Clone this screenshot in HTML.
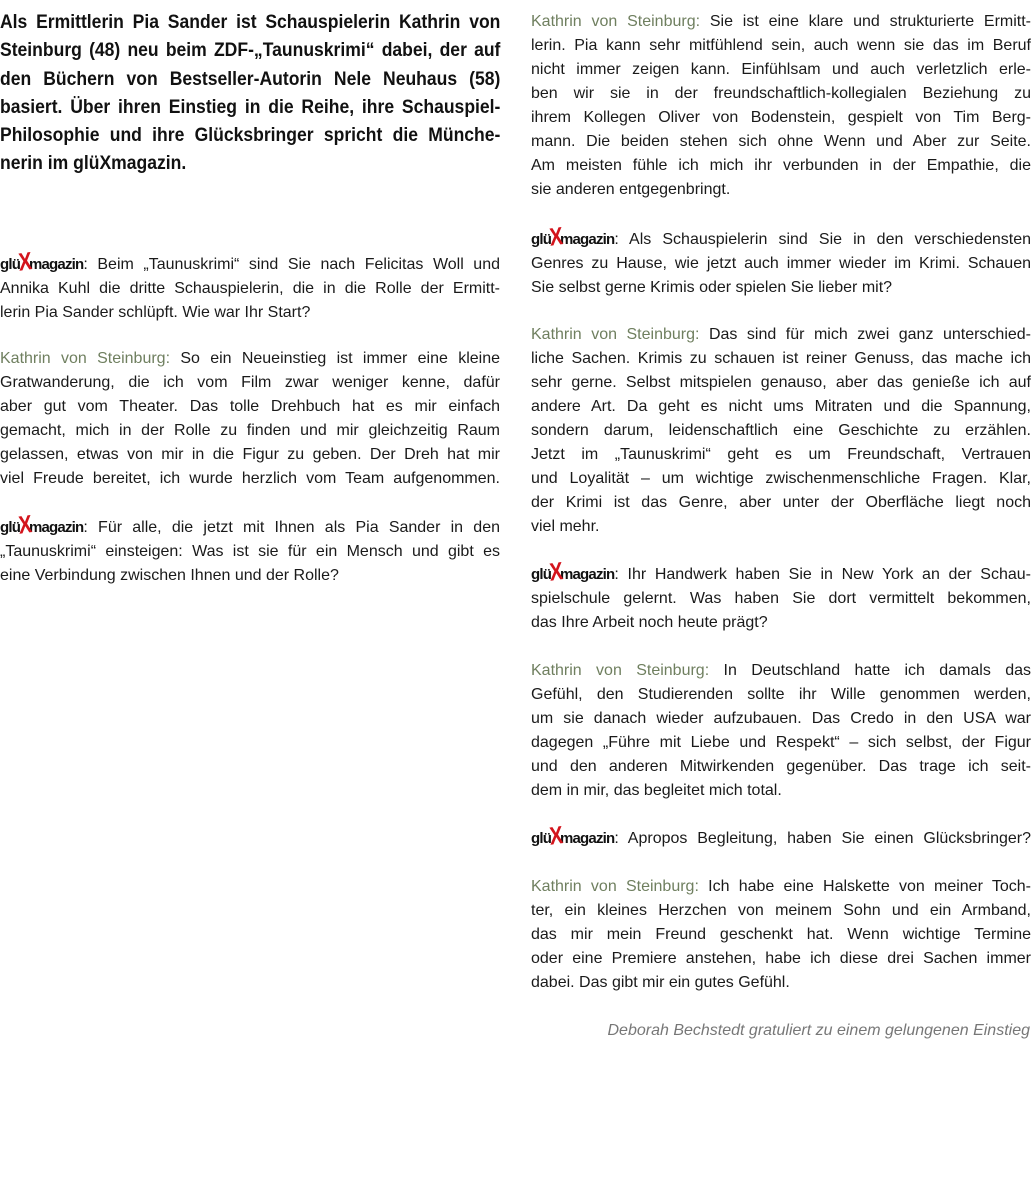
<!DOCTYPE html>
<html><head><meta charset="utf-8"><style>
body{margin:0;width:1032px;height:1200px;background:#fff;position:relative;overflow:hidden;font-family:"Liberation Sans",sans-serif;color:#1a1a1a}
.l{position:absolute;height:24px;line-height:24px;font-size:16px;white-space:nowrap;text-align:justify;text-align-last:justify;width:500px}
.L{left:0}.R{left:531px}
.e{text-align-last:left}
.h{position:absolute;left:0;width:556px;transform:scaleX(0.9);transform-origin:0 0;height:28px;line-height:28px;font-weight:bold;font-size:19.5px;white-space:nowrap;text-align:justify;text-align-last:justify;color:#111}
.k{color:#6f7f5f}
.g{font-weight:bold;font-size:15px;letter-spacing:-0.8px;position:relative;display:inline-block;color:#111}
.g i{font-style:normal;color:#d3141c;font-size:25px;font-weight:bold;display:inline-block;transform:scaleX(0.8) rotate(-6deg);margin:0 -4px 0 -3px;line-height:10px;position:relative;top:1px}
.it{font-style:italic;color:#777;text-align:right;text-align-last:right;width:499px}
</style></head><body>
<div class="h" style="top:8px">Als Ermittlerin Pia Sander ist Schauspielerin Kathrin von</div>
<div class="h" style="top:36px">Steinburg (48) neu beim ZDF-„Taunuskrimi“ dabei, der auf</div>
<div class="h" style="top:65px">den Büchern von Bestseller-Autorin Nele Neuhaus (58)</div>
<div class="h" style="top:93px">basiert. Über ihren Einstieg in die Reihe, ihre Schauspiel-</div>
<div class="h" style="top:121px">Philosophie und ihre Glücksbringer spricht die Münche-</div>
<div class="h" style="top:149px;text-align-last:left">nerin im glüXmagazin.</div>

<div class="l L" style="top:253px"><span class="g">glü<i>X</i>magazin</span>: Beim „Taunuskrimi“ sind Sie nach Felicitas Woll und</div>
<div class="l L" style="top:277px">Annika Kuhl die dritte Schauspielerin, die in die Rolle der Ermitt-</div>
<div class="l L e" style="top:301px">lerin Pia Sander schlüpft. Wie war Ihr Start?</div>

<div class="l L" style="top:347px"><span class="k">Kathrin von Steinburg:</span> So ein Neueinstieg ist immer eine kleine</div>
<div class="l L" style="top:371px">Gratwanderung, die ich vom Film zwar weniger kenne, dafür</div>
<div class="l L" style="top:395px">aber gut vom Theater. Das tolle Drehbuch hat es mir einfach</div>
<div class="l L" style="top:419px">gemacht, mich in der Rolle zu finden und mir gleichzeitig Raum</div>
<div class="l L" style="top:443px">gelassen, etwas von mir in die Figur zu geben. Der Dreh hat mir</div>
<div class="l L" style="top:467px">viel Freude bereitet, ich wurde herzlich vom Team aufgenommen.</div>

<div class="l L" style="top:516px"><span class="g">glü<i>X</i>magazin</span>: Für alle, die jetzt mit Ihnen als Pia Sander in den</div>
<div class="l L" style="top:540px">„Taunuskrimi“ einsteigen: Was ist sie für ein Mensch und gibt es</div>
<div class="l L e" style="top:564px">eine Verbindung zwischen Ihnen und der Rolle?</div>

<div class="l R" style="top:10px"><span class="k">Kathrin von Steinburg:</span> Sie ist eine klare und strukturierte Ermitt-</div>
<div class="l R" style="top:34px">lerin. Pia kann sehr mitfühlend sein, auch wenn sie das im Beruf</div>
<div class="l R" style="top:58px">nicht immer zeigen kann. Einfühlsam und auch verletzlich erle-</div>
<div class="l R" style="top:82px">ben wir sie in der freundschaftlich-kollegialen Beziehung zu</div>
<div class="l R" style="top:106px">ihrem Kollegen Oliver von Bodenstein, gespielt von Tim Berg-</div>
<div class="l R" style="top:130px">mann. Die beiden stehen sich ohne Wenn und Aber zur Seite.</div>
<div class="l R" style="top:154px">Am meisten fühle ich mich ihr verbunden in der Empathie, die</div>
<div class="l R e" style="top:178px">sie anderen entgegenbringt.</div>

<div class="l R" style="top:228px"><span class="g">glü<i>X</i>magazin</span>: Als Schauspielerin sind Sie in den verschiedensten</div>
<div class="l R" style="top:252px">Genres zu Hause, wie jetzt auch immer wieder im Krimi. Schauen</div>
<div class="l R e" style="top:276px">Sie selbst gerne Krimis oder spielen Sie lieber mit?</div>

<div class="l R" style="top:323px"><span class="k">Kathrin von Steinburg:</span> Das sind für mich zwei ganz unterschied-</div>
<div class="l R" style="top:347px">liche Sachen. Krimis zu schauen ist reiner Genuss, das mache ich</div>
<div class="l R" style="top:371px">sehr gerne. Selbst mitspielen genauso, aber das genieße ich auf</div>
<div class="l R" style="top:395px">andere Art. Da geht es nicht ums Mitraten und die Spannung,</div>
<div class="l R" style="top:419px">sondern darum, leidenschaftlich eine Geschichte zu erzählen.</div>
<div class="l R" style="top:443px">Jetzt im „Taunuskrimi“ geht es um Freundschaft, Vertrauen</div>
<div class="l R" style="top:467px">und Loyalität – um wichtige zwischenmenschliche Fragen. Klar,</div>
<div class="l R" style="top:491px">der Krimi ist das Genre, aber unter der Oberfläche liegt noch</div>
<div class="l R e" style="top:515px">viel mehr.</div>

<div class="l R" style="top:563px"><span class="g">glü<i>X</i>magazin</span>: Ihr Handwerk haben Sie in New York an der Schau-</div>
<div class="l R" style="top:587px">spielschule gelernt. Was haben Sie dort vermittelt bekommen,</div>
<div class="l R e" style="top:611px">das Ihre Arbeit noch heute prägt?</div>

<div class="l R" style="top:659px"><span class="k">Kathrin von Steinburg:</span> In Deutschland hatte ich damals das</div>
<div class="l R" style="top:683px">Gefühl, den Studierenden sollte ihr Wille genommen werden,</div>
<div class="l R" style="top:707px">um sie danach wieder aufzubauen. Das Credo in den USA war</div>
<div class="l R" style="top:731px">dagegen „Führe mit Liebe und Respekt“ – sich selbst, der Figur</div>
<div class="l R" style="top:755px">und den anderen Mitwirkenden gegenüber. Das trage ich seit-</div>
<div class="l R e" style="top:779px">dem in mir, das begleitet mich total.</div>

<div class="l R" style="top:827px"><span class="g">glü<i>X</i>magazin</span>: Apropos Begleitung, haben Sie einen Glücksbringer?</div>

<div class="l R" style="top:875px"><span class="k">Kathrin von Steinburg:</span> Ich habe eine Halskette von meiner Toch-</div>
<div class="l R" style="top:899px">ter, ein kleines Herzchen von meinem Sohn und ein Armband,</div>
<div class="l R" style="top:923px">das mir mein Freund geschenkt hat. Wenn wichtige Termine</div>
<div class="l R" style="top:947px">oder eine Premiere anstehen, habe ich diese drei Sachen immer</div>
<div class="l R e" style="top:971px">dabei. Das gibt mir ein gutes Gefühl.</div>

<div class="l R it" style="top:1019px">Deborah Bechstedt gratuliert zu einem gelungenen Einstieg</div>
</body></html>
